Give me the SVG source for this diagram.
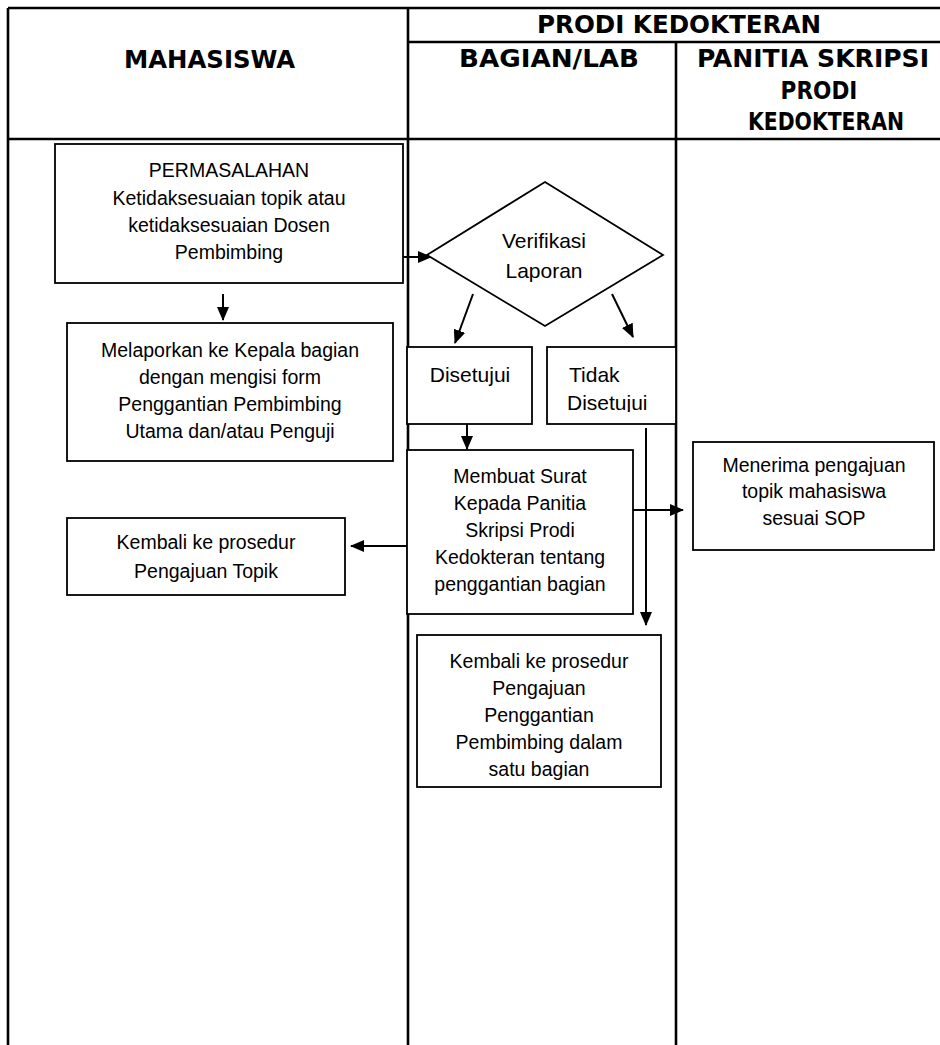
<svg xmlns="http://www.w3.org/2000/svg" width="940" height="1045" viewBox="0 0 940 1045">
<style>
.frame{stroke:#000;stroke-width:2.6;fill:none}
.box{fill:#fff;stroke:#000;stroke-width:1.8}
.hd{font-family:"DejaVu Sans Condensed","DejaVu Sans",sans-serif;font-weight:bold;font-stretch:condensed;font-size:24px;fill:#000;text-anchor:middle}
.t{font-family:"Liberation Sans",Arial,sans-serif;font-size:19.5px;fill:#000;text-anchor:middle}
.t2{font-family:"Liberation Sans",Arial,sans-serif;font-size:21px;fill:#000}
.c{stroke:#000;stroke-width:2;fill:none;marker-end:url(#ah)}
</style>
<defs>
<marker id="ah" markerUnits="userSpaceOnUse" markerWidth="14" markerHeight="12" refX="13" refY="6" orient="auto">
<path d="M0,0 L14,6 L0,12 z" fill="#000"/>
</marker>
<clipPath id="clipTidak"><rect x="547" y="347" width="129" height="65"/></clipPath>
</defs>
<rect width="940" height="1045" fill="#fff"/>
<g id="frame">
<line class="frame" x1="8" y1="8" x2="940" y2="8"/>
<line class="frame" x1="8" y1="8" x2="8" y2="1045"/>
<line class="frame" x1="408" y1="8" x2="408" y2="1045"/>
<line class="frame" x1="408" y1="42" x2="940" y2="42"/>
<line class="frame" x1="676" y1="42" x2="676" y2="1045"/>
<line class="frame" x1="8" y1="139" x2="940" y2="139"/>
<text class="hd" x="679" y="33" textLength="284" lengthAdjust="spacingAndGlyphs">PRODI KEDOKTERAN</text>
<text class="hd" x="209.5" y="68" textLength="171" lengthAdjust="spacingAndGlyphs">MAHASISWA</text>
<text class="hd" x="549" y="67" textLength="180" lengthAdjust="spacingAndGlyphs">BAGIAN/LAB</text>
<text class="hd" x="813" y="67" textLength="232" lengthAdjust="spacingAndGlyphs">PANITIA SKRIPSI</text>
<text class="hd" x="819" y="99">PRODI</text>
<text class="hd" x="826" y="130" textLength="156" lengthAdjust="spacingAndGlyphs">KEDOKTERAN</text>
</g>
<g id="connectors">
<line class="c" x1="403" y1="257" x2="431" y2="257"/>
<line class="c" x1="223" y1="294" x2="223" y2="320"/>
<line class="c" x1="473" y1="294" x2="455" y2="343"/>
<line class="c" x1="612" y1="294" x2="633" y2="337"/>
<line class="c" x1="467" y1="424" x2="467" y2="449"/>
<line class="c" x1="646" y1="428" x2="646" y2="625"/>
<line class="c" x1="633" y1="510" x2="683" y2="510"/>
<line class="c" x1="407" y1="546" x2="351" y2="546"/>
</g>
<g id="permasalahan">
<rect class="box" x="55" y="144" width="348" height="139"/>
<text class="t" x="229" y="177">PERMASALAHAN</text>
<text class="t" x="229" y="205">Ketidaksesuaian topik atau</text>
<text class="t" x="229" y="232">ketidaksesuaian Dosen</text>
<text class="t" x="229" y="259">Pembimbing</text>
</g>
<g id="melaporkan">
<rect class="box" x="67" y="323" width="326" height="138"/>
<text class="t" x="230" y="357">Melaporkan ke Kepala bagian</text>
<text class="t" x="230" y="384">dengan mengisi form</text>
<text class="t" x="230" y="411">Penggantian Pembimbing</text>
<text class="t" x="230" y="438">Utama dan/atau Penguji</text>
</g>
<g id="kembali-topik">
<rect class="box" x="67" y="518" width="278" height="77"/>
<text class="t" x="206" y="549">Kembali ke prosedur</text>
<text class="t" x="206" y="578">Pengajuan Topik</text>
</g>
<g id="verifikasi">
<polygon class="box" points="545,182 663,255 545,326 427,255"/>
<text class="t2" x="544" y="248" text-anchor="middle">Verifikasi</text>
<text class="t2" x="544" y="278" text-anchor="middle">Laporan</text>
</g>
<g id="disetujui">
<rect class="box" x="407" y="347" width="125" height="77"/>
<text class="t2" x="470" y="382" text-anchor="middle">Disetujui</text>
</g>
<g id="tidak-disetujui">
<rect class="box" x="547" y="347" width="129" height="77"/>
<text class="t2" x="569" y="382">Tidak</text>
<text class="t2" x="567" y="410" clip-path="url(#clipTidak)">Disetujui</text>
</g>
<g id="membuat-surat">
<rect class="box" x="407" y="450" width="226" height="164"/>
<text class="t" x="520" y="483">Membuat Surat</text>
<text class="t" x="520" y="510">Kepada Panitia</text>
<text class="t" x="520" y="537">Skripsi Prodi</text>
<text class="t" x="520" y="564">Kedokteran tentang</text>
<text class="t" x="520" y="591">penggantian bagian</text>
</g>
<g id="menerima">
<rect class="box" x="693" y="442" width="241" height="108"/>
<text class="t" x="814" y="472">Menerima pengajuan</text>
<text class="t" x="814" y="498">topik mahasiswa</text>
<text class="t" x="814" y="525">sesuai SOP</text>
</g>
<g id="kembali-pembimbing">
<rect class="box" x="417" y="635" width="244" height="152"/>
<text class="t" x="539" y="668">Kembali ke prosedur</text>
<text class="t" x="539" y="695">Pengajuan</text>
<text class="t" x="539" y="722">Penggantian</text>
<text class="t" x="539" y="749">Pembimbing dalam</text>
<text class="t" x="539" y="776">satu bagian</text>
</g>
</svg>
